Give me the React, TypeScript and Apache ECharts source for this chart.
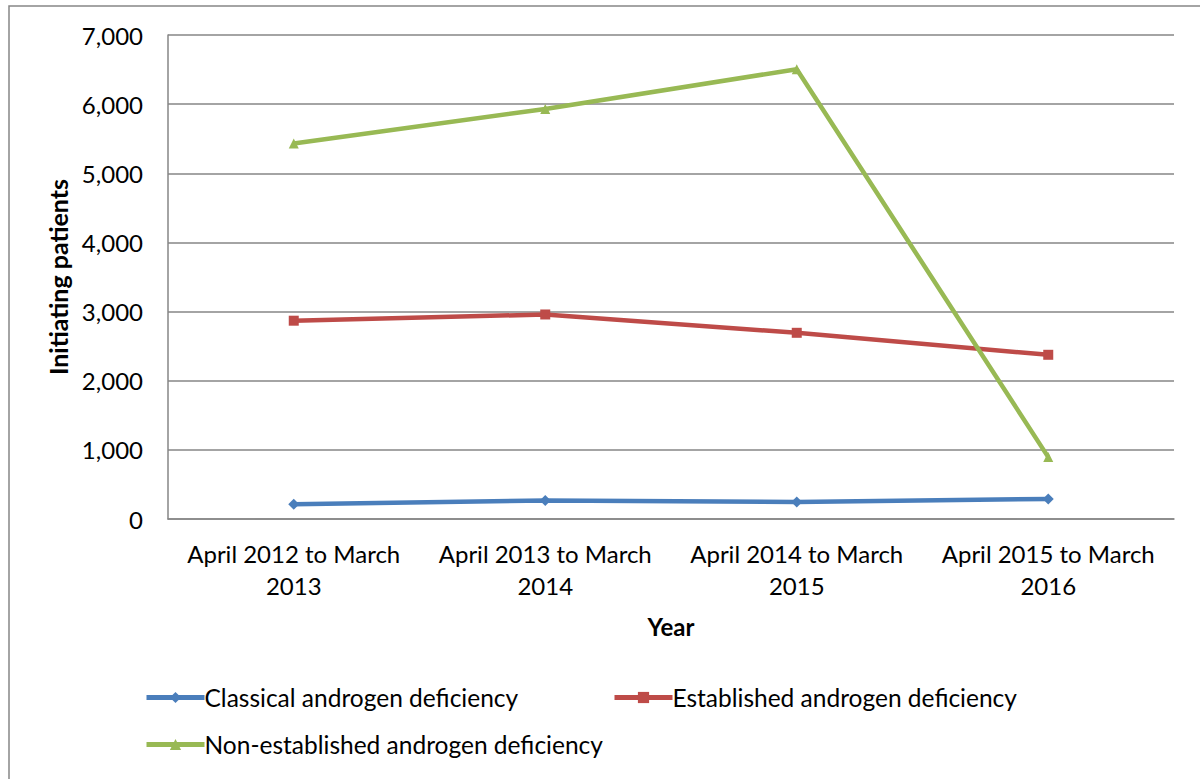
import React, { useEffect, useRef } from "react";
import * as echarts from "echarts";

const categories = [
  "April 2012 to March 2013",
  "April 2013 to March 2014",
  "April 2014 to March 2015",
  "April 2015 to March 2016",
];
const classical = [215, 268, 245, 290];
const established = [2868, 2958, 2693, 2375];
const nonEstablished = [5430, 5930, 6505, 895];
const seriesNames = [
  "Classical androgen deficiency",
  "Established androgen deficiency",
  "Non-established androgen deficiency",
];
const colors = ["#4A7EBB", "#BE4B48", "#98B954"];
const symbols = ["diamond", "rect", "triangle"];

const FONT = "Lato, 'Liberation Sans', sans-serif";

export default function App() {
  const ref = useRef<HTMLDivElement>(null);
  useEffect(() => {
    if (!ref.current) return;
    const chart = echarts.init(ref.current, null, { renderer: "svg" });
    const data = [classical, established, nonEstablished];
    chart.setOption({
      animation: false,
      backgroundColor: "#ffffff",
      textStyle: { fontFamily: FONT },
      graphic: [
        {
          type: "rect",
          shape: { x: 9, y: 6, width: 1200, height: 800 },
          style: { fill: "none", stroke: "#868686", lineWidth: 1.5 },
          silent: true,
        },
      ],
      grid: { left: 168, top: 35, right: 26, bottom: 260, containLabel: false },
      xAxis: {
        type: "category",
        data: categories,
        boundaryGap: true,
        name: "Year",
        nameLocation: "middle",
        nameGap: 95,
        nameTextStyle: { fontFamily: FONT, fontSize: 24, fontWeight: "bold", color: "#000" },
        axisLine: { show: true, lineStyle: { color: "#868686", width: 1.5 } },
        axisTick: { show: false },
        axisLabel: {
          color: "#000",
          fontSize: 24,
          fontFamily: FONT,
          margin: 18,
          lineHeight: 32,
          interval: 0,
          formatter: (v: string) => v.replace(/ (\d{4})$/, "\n$1"),
        },
        splitLine: { show: false },
      },
      yAxis: {
        type: "value",
        min: 0,
        max: 7000,
        interval: 1000,
        name: "Initiating patients",
        nameLocation: "middle",
        nameRotate: 90,
        nameGap: 96,
        nameTextStyle: { fontFamily: FONT, fontSize: 25, fontWeight: "bold", color: "#000" },
        axisLine: { show: true, lineStyle: { color: "#868686", width: 1.5 } },
        axisTick: { show: false },
        axisLabel: {
          color: "#000",
          fontSize: 24,
          fontFamily: FONT,
          margin: 25,
          formatter: (v: number) => v.toLocaleString("en-US"),
        },
        splitLine: { show: true, lineStyle: { color: "#868686", width: 1.5 } },
      },
      legend: [
        { data: [seriesNames[0]], left: 144, top: 685 },
        { data: [seriesNames[1]], left: 612, top: 685 },
        { data: [seriesNames[2]], left: 144, top: 732 },
      ].map((l) => ({
        ...l,
        itemWidth: 58,
        itemHeight: 14,
        itemGap: 5,
        padding: 0,
        lineStyle: { width: 5 },
        textStyle: { fontFamily: FONT, fontSize: 24.5, color: "#000", padding: [0, 0, 0, -5] },
      })),
      series: seriesNames.map((name, i) => ({
        name,
        type: "line",
        data: data[i],
        symbol: symbols[i],
        symbolSize: i === 0 ? 11 : 10,
        lineStyle: { color: colors[i], width: 4.5 },
        itemStyle: { color: colors[i] },
        emphasis: { disabled: true },
      })),
    });
    return () => chart.dispose();
  }, []);
  return (
    <div
      ref={ref}
      style={{ position: "fixed", left: 0, top: 0, width: 1200, height: 779 }}
    />
  );
}
